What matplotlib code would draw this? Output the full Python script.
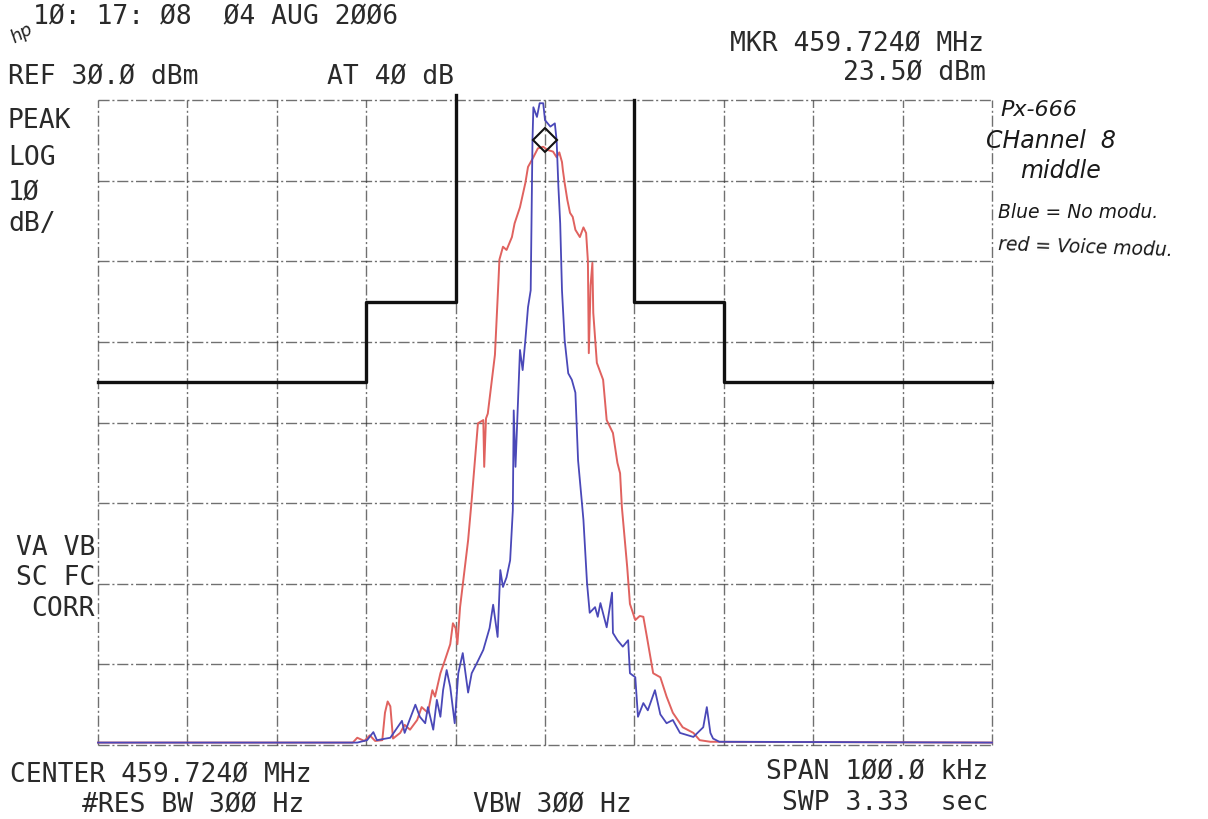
import numpy as np
import matplotlib
matplotlib.use("Agg")
import matplotlib.pyplot as plt

# ── DATA (offset from centre in kHz, level in dBm) ────────────────────────────
RED_KHZ = [-50.0, -21.5, -21.0, -20.2, -19.6, -19.0, -18.2, -17.9, -17.6, -17.3,
           -17.0, -16.2, -15.7, -15.1, -14.3, -13.8, -13.1, -12.6, -12.3, -11.7,
           -11.2, -10.6, -10.3, -10.0, -9.8, -9.5, -8.6, -8.2, -7.5, -6.9,
           -6.8, -6.6, -6.4, -5.6, -5.2, -5.1, -4.7, -4.3, -3.7, -3.4,
           -2.8, -2.2, -1.9, -1.3, -0.8, -0.2, 0.3, 0.9, 1.3, 1.6,
           1.9, 2.0, 2.2, 2.5, 2.8, 3.1, 3.4, 3.9, 4.3, 4.6,
           4.8, 4.9, 5.1, 5.3, 5.4, 5.8, 6.5, 6.9, 7.6, 8.1,
           8.4, 8.6, 9.2, 9.5, 10.1, 10.6, 11.0, 11.4, 12.1, 12.9,
           13.6, 14.3, 15.4, 16.6, 17.3, 18.5, 50.0]
RED_DBM = [-49.7, -49.7, -49.1, -49.5, -48.8, -49.5, -49.4, -46.0, -44.6, -45.2,
           -49.2, -48.5, -47.5, -48.1, -46.9, -45.3, -46.0, -43.2, -44.0, -41.1,
           -39.5, -37.5, -34.9, -35.5, -37.5, -32.9, -24.6, -19.6, -10.1, -9.7,
           -15.5, -9.5, -8.9, -1.6, 7.7, 10.2, 11.8, 11.4, 13.0, 14.7,
           16.7, 19.7, 21.7, 22.9, 24.0, 24.2, 23.8, 23.6, 22.9, 23.5,
           22.3, 21.3, 19.7, 17.6, 16.0, 15.5, 13.9, 13.0, 14.2, 13.5,
           10.0, -1.4, 7.0, 9.8, 3.6, -2.6, -4.7, -9.7, -11.3, -15.0,
           -16.3, -20.5, -28.0, -32.5, -34.5, -34.0, -34.1, -36.6, -41.1, -41.6,
           -44.0, -46.0, -47.8, -48.5, -49.4, -49.6, -49.7]

BLUE_KHZ = [-50.0, -21.0, -19.9, -19.2, -18.8, -17.3, -16.0, -15.7, -14.5, -14.0,
            -13.4, -13.1, -12.5, -12.1, -11.7, -11.4, -11.0, -10.6, -10.1, -9.7,
            -9.2, -8.6, -8.2, -7.6, -6.9, -6.2, -5.8, -5.3, -5.0, -4.7,
            -4.3, -3.9, -3.6, -3.5, -3.3, -2.8, -2.5, -2.2, -1.9, -1.6,
            -1.4, -1.3, -0.9, -0.6, -0.2, 0.0, 0.6, 1.1, 1.3, 1.5,
            1.7, 1.9, 2.2, 2.6, 3.0, 3.4, 3.7, 4.1, 4.3, 4.7,
            5.0, 5.6, 5.9, 6.2, 6.9, 7.5, 7.6, 8.1, 8.7, 9.3,
            9.5, 10.1, 10.4, 11.0, 11.5, 12.3, 12.9, 13.6, 14.3, 15.1,
            16.6, 17.7, 18.1, 18.5, 18.8, 19.5, 50.0]
BLUE_DBM = [-49.7, -49.7, -49.4, -48.4, -49.4, -49.1, -47.0, -48.5, -45.0, -46.5,
            -47.3, -45.3, -48.1, -44.4, -46.5, -43.2, -40.7, -42.8, -47.3, -41.1,
            -38.6, -43.5, -41.1, -39.8, -38.2, -35.5, -32.6, -36.6, -28.3, -30.4,
            -29.2, -27.1, -20.9, -8.5, -15.5, -1.0, -3.5, 0.2, 4.3, 6.4,
            25.0, 29.1, 27.9, 29.6, 29.6, 27.5, 26.7, 27.1, 25.0, 19.2,
            14.7, 6.4, 0.2, -3.9, -4.7, -6.3, -14.7, -19.6, -22.1, -29.9,
            -33.6, -32.9, -34.1, -32.4, -35.4, -31.1, -36.1, -37.0, -37.8, -37.0,
            -41.1, -41.6, -46.5, -44.8, -45.7, -43.2, -46.2, -47.3, -46.9, -48.5,
            -49.0, -47.8, -45.3, -48.5, -49.2, -49.6, -49.7]

# emission mask drawn by the analyser (two pieces, open at the top)
MASK_LEFT_KHZ = [-50, -20, -20, -10, -10]
MASK_LEFT_DBM = [-5, -5, 5, 5, 30.6]
MASK_RIGHT_KHZ = [10, 10, 20, 20, 50]
MASK_RIGHT_DBM = [30.0, 5, 5, -5, -5]

MARKER_KHZ = 0.0
MARKER_DBM = 25.0

RED = "#e0625f"
BLUE = "#4a48b8"
W, H = 1208, 819


def fx(px):
    return px / W


def fy(py):
    return 1 - py / H


fig = plt.figure(figsize=(W / 100, H / 100), dpi=100)
fig.patch.set_facecolor("white")
ax = fig.add_axes([fx(98), fy(745), (992 - 98) / W, (745 - 100) / H])
ax.set_xlim(-50, 50)
ax.set_ylim(-50, 30)
ax.set_xticks(np.arange(-50, 51, 10))
ax.set_yticks(np.arange(-50, 31, 10))
ax.tick_params(length=0, labelbottom=False, labelleft=False)
for s in ax.spines.values():
    s.set_visible(False)
ax.grid(True, color="#333333", linewidth=1.0, linestyle=(0, (8, 2, 1.5, 2)), alpha=0.7)
for g in ax.get_xgridlines() + ax.get_ygridlines():
    g.set_clip_on(False)

ax.plot(MASK_LEFT_KHZ, MASK_LEFT_DBM, color="#111111", lw=2.4, clip_on=False, zorder=3)
ax.plot(MASK_RIGHT_KHZ, MASK_RIGHT_DBM, color="#111111", lw=2.4, clip_on=False, zorder=3)

ax.plot(RED_KHZ, RED_DBM, color=RED, lw=1.4, zorder=4, clip_on=False)
ax.plot(BLUE_KHZ, BLUE_DBM, color=BLUE, lw=1.3, zorder=5, clip_on=False)
ax.plot([MARKER_KHZ], [MARKER_DBM], marker="D", ms=12, mfc="none", mec="#111111",
        mew=1.5, zorder=6)

# analyser annotations
mono = dict(family="DejaVu Sans Mono", fontsize=19, color="#2a2a2a", va="center")
fig.text(fx(33), fy(17), "1Ø: 17: Ø8  Ø4 AUG 2ØØ6", ha="left", **mono)
fig.text(fx(22), fy(34), "hp", ha="center", va="center", fontsize=13, style="italic",
         rotation=30, color="#222222")
fig.text(fx(8), fy(77), "REF 3Ø.Ø dBm", ha="left", **mono)
fig.text(fx(327), fy(77), "AT 4Ø dB", ha="left", **mono)
fig.text(fx(984), fy(44), "MKR 459.724Ø MHz", ha="right", **mono)
fig.text(fx(986), fy(73), "23.5Ø dBm", ha="right", **mono)
for lbl, y in [("PEAK", 121), ("LOG", 158), ("1Ø", 193), ("dB/", 224)]:
    fig.text(fx(8), fy(y), lbl, ha="left", **mono)
for lbl, y in [("VA VB", 548), ("SC FC", 578), ("CORR", 609)]:
    fig.text(fx(95), fy(y), lbl, ha="right", **mono)
fig.text(fx(10), fy(775), "CENTER 459.724Ø MHz", ha="left", **mono)
fig.text(fx(82), fy(805), "#RES BW 3ØØ Hz", ha="left", **mono)
fig.text(fx(473), fy(805), "VBW 3ØØ Hz", ha="left", **mono)
fig.text(fx(988), fy(772), "SPAN 1ØØ.Ø kHz", ha="right", **mono)
fig.text(fx(988), fy(803), "SWP 3.33  sec", ha="right", **mono)

# handwritten notes
hand = dict(family="DejaVu Sans", style="italic", color="#1a1a1a", va="center", ha="left")
fig.text(fx(1000), fy(110), "Px-666", fontsize=16, **hand)
fig.text(fx(986), fy(141), "CHannel  8", fontsize=17, **hand)
fig.text(fx(1020), fy(171), "middle", fontsize=17, **hand)
fig.text(fx(998), fy(212), "Blue = No modu.", fontsize=13.5, **hand)
fig.text(fx(998), fy(248), "red = Voice modu.", fontsize=13.5, rotation=-2, **hand)

fig.savefig("out.png", dpi=100)
